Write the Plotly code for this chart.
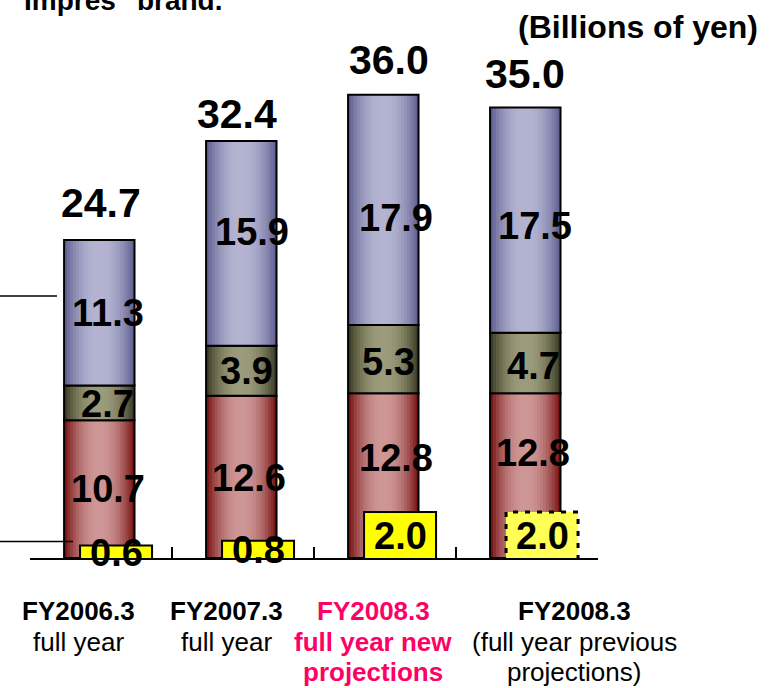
import numpy as np
import plotly.graph_objects as go

# ---------------- data ----------------
categories = ["FY2006.3 full year", "FY2007.3 full year",
              "FY2008.3 full year new projections",
              "FY2008.3 (full year previous projections)"]
tick_lines = [["FY2006.3", "full year"],
              ["FY2007.3", "full year"],
              ["FY2008.3", "full year new", "projections"],
              ["FY2008.3", "(full year previous", "projections)"]]
red_values = [10.7, 12.6, 12.8, 12.8]
olive_values = [2.7, 3.9, 5.3, 4.7]
blue_values = [11.3, 15.9, 17.9, 17.5]
totals = [24.7, 32.4, 36.0, 35.0]
yellow_values = [0.6, 0.8, 2.0, 2.0]

# ---------------- styling ----------------
FONT = "Liberation Sans, Arial, sans-serif"
xs = np.arange(len(categories))
red = np.array(red_values)
olive = np.array(olive_values)
blue = np.array(blue_values)
bases = {"red": np.zeros(len(xs)), "olive": red, "blue": red + olive}
vals = {"red": red, "olive": olive, "blue": blue}
grad = {  # edge colour, centre colour
    "red": ((122, 22, 22), (206, 150, 150)),
    "olive": ((62, 62, 38), (156, 156, 124)),
    "blue": ((98, 98, 148), (180, 180, 210)),
}
BAR_W = 0.496
BAR_C = -0.012
YEL_W = 0.507
YEL_C = 0.106
N = 12
PLOT_BOTTOM = 558
PLOT_H = 538

fig = go.Figure()
for s in ["red", "olive", "blue"]:
    e, c = grad[s]
    for k in range(N):
        t = k / (N - 1)
        t = 1 - (1 - t) ** 2
        col = "rgb(%d,%d,%d)" % tuple(int(round(e[j] + (c[j] - e[j]) * t)) for j in range(3))
        w = BAR_W * (1 - k / N)
        fig.add_trace(go.Bar(x=xs, y=vals[s], base=bases[s], width=w, offset=BAR_C - w / 2,
                             marker=dict(color=col, line=dict(width=0)),
                             showlegend=False, hoverinfo="skip"))
    fig.add_trace(go.Bar(x=xs, y=vals[s], base=bases[s], width=BAR_W, offset=BAR_C - BAR_W / 2,
                         marker=dict(color="rgba(0,0,0,0)", line=dict(color="black", width=2)),
                         showlegend=False, hoverinfo="skip"))

# yellow boxes (secondary scale)
fig.add_trace(go.Bar(x=xs, y=yellow_values, yaxis="y2", width=YEL_W, offset=YEL_C - YEL_W / 2,
                     marker=dict(color=["#ffff00", "#ffff00", "#ffff00", "#ffff55"],
                                 line=dict(color="black", width=[2, 2, 2, 0])),
                     showlegend=False, hoverinfo="skip"))
i4 = len(xs) - 1
x0, x1 = xs[i4] + YEL_C - YEL_W / 2, xs[i4] + YEL_C + YEL_W / 2
fig.add_trace(go.Scatter(x=[x0, x1, x1, x0, x0], y=[0, 0, yellow_values[i4], yellow_values[i4], 0],
                         yaxis="y2", mode="lines", line=dict(color="black", width=3, dash="5px,7px"),
                         showlegend=False, hoverinfo="skip"))

ann = []
num_font = dict(family=FONT, size=38, color="black")
# segment label nudges (px)
dx = {"red": [9, 8, 13, 8], "olive": [8, 5, 5, 8], "blue": [9, 11, 13, 10]}
dy = {"red": [0, -1, 18, 23], "olive": [-1, 0, -3, -3], "blue": [0, 11, -8, -6]}
for s in ["red", "olive", "blue"]:
    mids = bases[s] + vals[s] / 2
    for i in range(len(xs)):
        ann.append(dict(x=xs[i] + BAR_C, y=mids[i], text="<b>%.1f</b>" % vals[s][i],
                        showarrow=False, font=num_font, xshift=dx[s][i], yshift=dy[s][i]))
tdx = [2, -4, 6, 0]
tdy = [37, 27, 35, 34]
for i in range(len(xs)):
    ann.append(dict(x=xs[i] + BAR_C, y=totals[i], text="<b>%.1f</b>" % totals[i], showarrow=False,
                    font=dict(family=FONT, size=41, color="black"), xshift=tdx[i], yshift=tdy[i]))
for i in range(len(xs)):
    ann.append(dict(x=xs[i] + YEL_C, y=yellow_values[i] / 2, yref="y2", text="<b>%.1f</b>" % yellow_values[i],
                    showarrow=False, font=num_font))

# category labels, one annotation per line
cdx = [-23, -17, -12, 47]
ccol = ["black", "black", "#ff0066", "black"]
line_y_px = [611, 642, 672]
for i in range(len(xs)):
    for j, txt in enumerate(tick_lines[i]):
        bold = (j == 0) or (i == 2)
        ann.append(dict(x=xs[i], y=(PLOT_BOTTOM - line_y_px[j]) / PLOT_H, yref="paper",
                        yanchor="middle", xanchor="center",
                        text=("<b>%s</b>" % txt) if bold else txt,
                        showarrow=False, xshift=cdx[i],
                        font=dict(family=FONT, size=26, color=ccol[i])))
ann.append(dict(x=1.071, y=(PLOT_BOTTOM - 27) / PLOT_H, xref="paper", yref="paper",
                xanchor="center", yanchor="middle", text="<b>(Billions of yen)</b>",
                showarrow=False, font=dict(family=FONT, size=32, color="black")))
ann.append(dict(x=-0.014, y=1.069, xref="paper", yref="paper", xanchor="left", yanchor="top",
                text="<b>Impres\" brand.</b>", showarrow=False,
                font=dict(family=FONT, size=28, color="black")))

shapes = [
    dict(type="line", xref="paper", yref="paper", x0=-0.06, x1=0.0475, y0=0.487, y1=0.487,
         line=dict(color="black", width=1.5)),
    dict(type="line", xref="paper", yref="paper", x0=-0.06, x1=0.0757, y0=0.0307, y1=0.0307,
         line=dict(color="black", width=1.5)),
]

fig.update_layout(
    width=776, height=688, margin=dict(l=30, r=178, t=20, b=130),
    paper_bgcolor="white", plot_bgcolor="white", barmode="overlay",
    showlegend=False, annotations=ann, shapes=shapes,
    xaxis=dict(range=[-0.5, len(xs) - 0.5], tickvals=list(np.arange(len(xs) + 1) - 0.5),
               ticks="inside", ticklen=11, tickwidth=2, tickcolor="black",
               showticklabels=False, showline=True, linecolor="black", linewidth=2,
               showgrid=False, zeroline=False),
    yaxis=dict(range=[0, PLOT_H / 12.87], visible=False, showgrid=False, zeroline=False),
    yaxis2=dict(range=[0.083, 0.083 + PLOT_H / 24.0], overlaying="y", visible=False,
                showgrid=False, zeroline=False),
)
fig.write_html("out.html", config={"displayModeBar": False},
               post_script="document.body.style.margin='0px';")
